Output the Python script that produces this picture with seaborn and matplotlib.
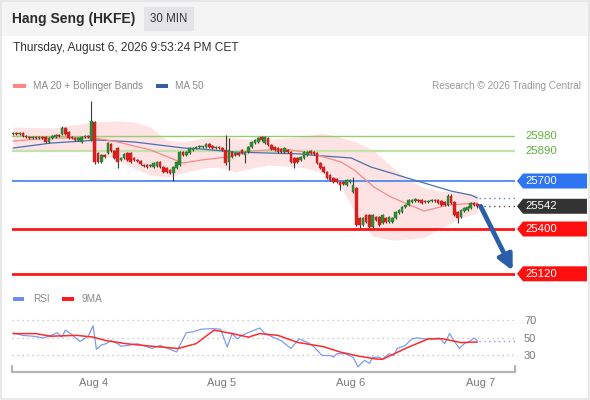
import numpy as np
import pandas as pd
import matplotlib
matplotlib.use("Agg")
import matplotlib.pyplot as plt
import seaborn as sns
from matplotlib.patches import Rectangle, Polygon
from matplotlib.transforms import blended_transform_factory

# ---------------- data ----------------
opens = [25994, 26000, 25994, 26000, 25981, 25975, 25969, 25975, 25969, 25975,
         25975, 25944, 25969, 25975, 25987, 25994, 26031, 26006, 25975, 25969,
         25956, 25944, 25975, 25981, 25956, 26069, 25875, 25819, 25862, 25875,
         25931, 25887, 25906, 25831, 25844, 25875, 25875, 25844, 25831, 25825,
         25800, 25800, 25794, 25787, 25794, 25819, 25787, 25781, 25769, 25750,
         25781, 25800, 25881, 25862, 25875, 25894, 25906, 25912, 25912, 25912,
         25931, 25919, 25906, 25912, 25906, 25894, 25819, 25881, 25862, 25875,
         25894, 25862, 25881, 25912, 25937, 25944, 25975, 25937, 25969, 25925,
         25912, 25906, 25900, 25881, 25894, 25881, 25844, 25844, 25831, 25844,
         25862, 25887, 25881, 25875, 25812, 25787, 25756, 25737, 25719, 25712,
         25694, 25694, 25675, 25694, 25631, 25656, 25469, 25425, 25487, 25487,
         25412, 25475, 25475, 25437, 25469, 25444, 25444, 25469, 25500, 25506,
         25537, 25550, 25569, 25575, 25581, 25581, 25575, 25569, 25575, 25581,
         25581, 25575, 25569, 25550, 25606, 25569, 25506, 25475, 25512, 25519,
         25531, 25562, 25556]
closes = [26000, 25994, 26000, 25981, 25975, 25969, 25975, 25969, 25975, 25969,
          25944, 25969, 25981, 25987, 25981, 26031, 25994, 25969, 25969, 25956,
          25969, 25975, 25981, 25975, 26075, 25819, 25819, 25862, 25850, 25937,
          25887, 25844, 25819, 25844, 25869, 25831, 25819, 25831, 25825, 25806,
          25794, 25787, 25800, 25812, 25819, 25787, 25756, 25756, 25750, 25787,
          25819, 25881, 25862, 25881, 25906, 25906, 25912, 25919, 25912, 25931,
          25912, 25906, 25912, 25906, 25894, 25812, 25894, 25850, 25875, 25862,
          25875, 25881, 25912, 25944, 25956, 25969, 25956, 25975, 25925, 25900,
          25894, 25881, 25881, 25906, 25881, 25819, 25812, 25819, 25850, 25881,
          25881, 25875, 25869, 25812, 25781, 25756, 25719, 25706, 25694, 25694,
          25675, 25681, 25706, 25706, 25675, 25425, 25425, 25469, 25444, 25412,
          25487, 25456, 25425, 25487, 25444, 25475, 25469, 25506, 25519, 25537,
          25550, 25581, 25581, 25587, 25575, 25562, 25569, 25575, 25581, 25575,
          25562, 25550, 25550, 25606, 25562, 25487, 25469, 25519, 25531, 25537,
          25562, 25550, 25542]
highs = [26006, 26006, 26006, 26006, 25987, 25981, 25981, 25981, 25981, 25981,
         25981, 25975, 25987, 25994, 25994, 26044, 26037, 26012, 25981, 25975,
         25975, 25981, 25987, 25987, 26200, 26075, 25881, 25869, 25869, 25944,
         25937, 25894, 25912, 25850, 25875, 25881, 25881, 25850, 25837, 25831,
         25806, 25806, 25806, 25819, 25825, 25825, 25794, 25787, 25775, 25794,
         25825, 25887, 25887, 25887, 25912, 25912, 25919, 25925, 25919, 25937,
         25937, 25925, 25919, 25919, 25912, 25987, 25969, 25887, 25881, 25881,
         25900, 25887, 25919, 25950, 25962, 25975, 25981, 25981, 25975, 25931,
         25919, 25912, 25906, 25912, 25900, 25887, 25850, 25850, 25856, 25887,
         25887, 25894, 25887, 25881, 25819, 25794, 25762, 25744, 25725, 25719,
         25700, 25700, 25712, 25712, 25725, 25662, 25475, 25475, 25494, 25494,
         25494, 25481, 25481, 25494, 25475, 25481, 25475, 25512, 25525, 25544,
         25556, 25587, 25587, 25594, 25587, 25587, 25581, 25581, 25587, 25587,
         25587, 25581, 25575, 25619, 25619, 25575, 25512, 25525, 25537, 25544,
         25569, 25569, 25562]
lows = [25987, 25987, 25987, 25975, 25969, 25962, 25962, 25962, 25962, 25962,
        25937, 25937, 25962, 25969, 25975, 25987, 25987, 25962, 25962, 25950,
        25950, 25937, 25969, 25969, 25950, 25806, 25812, 25812, 25844, 25869,
        25881, 25837, 25781, 25825, 25837, 25825, 25812, 25825, 25819, 25800,
        25787, 25781, 25787, 25781, 25787, 25781, 25750, 25750, 25744, 25700,
        25775, 25794, 25856, 25856, 25869, 25887, 25900, 25906, 25906, 25906,
        25906, 25900, 25900, 25900, 25887, 25800, 25769, 25844, 25856, 25856,
        25869, 25812, 25875, 25906, 25931, 25937, 25950, 25931, 25919, 25894,
        25887, 25875, 25875, 25875, 25875, 25812, 25781, 25812, 25825, 25837,
        25856, 25869, 25862, 25806, 25775, 25750, 25712, 25700, 25687, 25687,
        25644, 25675, 25669, 25687, 25625, 25419, 25406, 25419, 25437, 25406,
        25406, 25450, 25419, 25431, 25437, 25437, 25437, 25462, 25494, 25500,
        25531, 25544, 25562, 25569, 25569, 25556, 25562, 25562, 25569, 25569,
        25556, 25544, 25544, 25544, 25556, 25481, 25437, 25469, 25506, 25512,
        25525, 25544, 25531]

ma20_bar = [0, 12, 25, 32, 42, 52, 57.5, 65.7, 72.8, 82.9, 91, 100.3, 104.3,
            110.4, 115.6, 125.7, 133, 142]
ma20_val = [25950, 25969, 25969, 25944, 25894, 25812, 25831, 25850, 25887,
            25900, 25875, 25819, 25769, 25662, 25600, 25512, 25550, 25562]

ma50_bar = [0, 11.6, 26, 37, 52.3, 57.5, 67.6, 78, 88, 91, 103.4, 109.5,
            115.6, 121.7, 127.8, 134, 140, 142]
ma50_val = [25906, 25937, 25956, 25944, 25906, 25900, 25881, 25875, 25869,
            25862, 25844, 25787, 25750, 25712, 25675, 25637, 25612, 25594]

band_bar = [0, 12, 25, 32, 37, 42, 47, 52, 58, 63, 68, 73, 78, 88, 94, 100,
            105, 110, 116, 121, 126, 131, 137, 142]
band_upper = [26037, 26031, 26069, 26075, 26069, 26037, 25956, 25944, 25969,
              25975, 25969, 25962, 25962, 25975, 26000, 25975, 25944, 25894,
              25787, 25706, 25656, 25637, 25631, 25612]
band_lower = [25894, 25894, 25887, 25831, 25781, 25737, 25725, 25750, 25781,
              25787, 25756, 25781, 25800, 25787, 25756, 25675, 25487, 25356,
              25331, 25337, 25350, 25406, 25469, 25500]

rsi_bar = [0, 3, 6, 8, 9, 11, 13.5, 15, 16, 18, 20.5, 23, 24.5, 25.5, 27, 28.5,
           30, 32, 33, 35.5, 38, 40, 42.5, 45, 47, 50, 53, 55, 57.5, 61, 63.5,
           65.5, 67, 68.5, 70, 72.5, 75.5, 77, 79.5, 82, 85, 87.5, 90, 92, 94.5,
           97, 98, 99, 101.5, 104, 105.5, 107.5, 109, 110, 112, 113, 115, 116.5,
           117.5, 120, 122, 123.5, 126, 128, 130.5, 132, 133.5, 135, 136.5, 138,
           140, 141, 142]
rsi_val = [55.7, 53, 52, 51, 50, 52, 56, 51, 59, 54, 46, 52, 64, 37, 42, 43.5,
           47, 43.5, 40.5, 41.6, 43.5, 41, 38, 41.6, 38.6, 34, 56, 57, 60, 60.7,
           60, 39.7, 55, 49, 53, 57, 61.4, 55, 51, 47, 38, 49, 45, 40, 30,
           30, 28, 32, 32, 28, 17, 24.5, 21, 28, 28, 26, 32, 30,
           38, 41.6, 49, 50, 49, 49, 50, 43.5, 55, 46, 38, 43.5,
           47, 50, 47]
ma9_bar = [0, 7, 11.5, 19.5, 24.5, 28.5, 34.5, 42.5, 50.5, 56, 61.5, 67, 72,
           75.5, 81, 87, 95, 100, 105.5, 111, 113, 120, 127, 131.5, 137, 142]
ma9_val = [55, 55, 52, 53, 51, 47, 43.5, 40.5, 38, 43.5, 59, 55, 51, 55, 53,
           45, 40, 34, 29.4, 26, 25.6, 38, 49, 49, 44.7, 45.4]

day_labels = ["Aug 4", "Aug 5", "Aug 6", "Aug 7"]
day_bar = [24.5, 63.9, 103.4, 143.1]

levels = [25980, 25890, 25700, 25400, 25120]
level_kind = ["res", "res", "pivot", "sup", "sup"]
last_price = 25542
rsi_levels = [30, 50, 70]

# ---------------- style ----------------
sns.set_style("white")
plt.rcParams["font.family"] = ["Liberation Sans", "DejaVu Sans"]

W, H = 590, 400
fig = plt.figure(figsize=(W / 100, H / 100), dpi=100)
fig.patch.set_facecolor("white")

def fx(px):
    return px / W

def fy(py):
    return 1 - py / H

# header band
fig.patches.append(Rectangle((0, fy(36)), 1, 36 / H, transform=fig.transFigure,
                             facecolor="#f4f4f4", edgecolor="none", zorder=0))
fig.patches.append(Rectangle((fx(144), fy(31)), 50 / W, 24 / H, transform=fig.transFigure,
                             facecolor="#e4e4e6", edgecolor="none", zorder=1))
fig.patches.append(Rectangle((0.001, 0.002), 0.997, 0.996, transform=fig.transFigure,
                             facecolor="none", edgecolor="#e4e4e4", lw=1.2, zorder=1))
fig.text(fx(12), fy(19), "Hang Seng (HKFE)", fontsize=10, fontweight="bold",
         color="#2b2b2b", va="center", ha="left")
fig.text(fx(169), fy(19), "30 MIN", fontsize=8.3, color="#333333", va="center", ha="center")
fig.text(fx(13), fy(48), "Thursday, August 6, 2026 9:53:24 PM CET", fontsize=8.6,
         color="#333333", va="center", ha="left")

# legends
LFS = 7.2
fig.patches.append(Rectangle((fx(13), fy(88)), 13 / W, 4 / H, transform=fig.transFigure,
                             facecolor="#ff8585", edgecolor="none"))
fig.text(fx(33), fy(86), "MA 20 + Bollinger Bands", fontsize=LFS, color="#8a8a8a", va="center")
fig.patches.append(Rectangle((fx(156), fy(88)), 12 / W, 4 / H, transform=fig.transFigure,
                             facecolor="#3560a0", edgecolor="none"))
fig.text(fx(175), fy(86), "MA 50", fontsize=LFS, color="#8a8a8a", va="center")
fig.text(fx(581), fy(86), "Research \u00a9 2026 Trading Central", fontsize=LFS,
         color="#9a9a9a", va="center", ha="right")

fig.patches.append(Rectangle((fx(13), fy(301)), 11 / W, 4 / H, transform=fig.transFigure,
                             facecolor="#6b8ff0", edgecolor="none"))
fig.text(fx(33), fy(299), "RSI", fontsize=LFS, color="#8a8a8a", va="center")
fig.patches.append(Rectangle((fx(62), fy(301)), 12 / W, 4 / H, transform=fig.transFigure,
                             facecolor="#ff1a1a", edgecolor="none"))
fig.text(fx(82), fy(299), "9MA", fontsize=LFS, color="#8a8a8a", va="center")

# ---------------- main price axes ----------------
ax = fig.add_axes([fx(12), fy(285), 503 / W, 190 / H])
n = len(closes)
xs = np.arange(n)
spacing = 3.27
x_left = -1 / spacing
x_right = x_left + 503 / spacing
ax.set_xlim(x_left, x_right)
ax.set_ylim(25050, 26237.5)
ax.set_axis_off()

ax.fill_between(band_bar, band_lower, band_upper, color="#fde3e3", lw=0, zorder=1)

res_i = 0
for lv, kind in zip(levels, level_kind):
    if kind == "res":
        col = ["#98cc72", "#c2e2aa"][res_i]
        lw = [1.0, 1.6][res_i]
        res_i += 1
        ax.axhline(lv, color=col, lw=lw, zorder=2)
    elif kind == "pivot":
        ax.axhline(lv, color="#5a8ff0", lw=1.4, zorder=2)
    else:
        ax.axhline(lv, color="#ff1414", lw=2.0, zorder=2)

sns.lineplot(x=ma50_bar, y=ma50_val, ax=ax, color="#4a6fb0", lw=0.9, zorder=3)
sns.lineplot(x=ma20_bar, y=ma20_val, ax=ax, color="#f88a8a", lw=0.9, zorder=3)

o = np.array(opens, dtype=float)
c = np.array(closes, dtype=float)
up = c >= o
body = c - o
min_h = 5.0
body = np.where(np.abs(body) < min_h, np.where(up, min_h, -min_h), body)
ax.vlines(xs, lows, highs, color="#3a3a3a", lw=0.8, zorder=4)
ax.bar(xs, body, bottom=o, width=0.8,
       color=np.where(up, "#2f8a35", "#dd1f1f"),
       edgecolor=np.where(up, "#2a7a30", "#c81a1a"), lw=0.3, zorder=5)

# dotted forward projections
ax.hlines(ma50_val[-1], ma50_bar[-1] + 0.5, x_right, color="#5a7fc0", lw=1.0,
          linestyles=(0, (1, 2.5)), zorder=3)
ax.hlines(last_price, n - 1 + 0.5, x_right, color="#555555", lw=1.0,
          linestyles=(0, (1, 2.5)), zorder=3)

# right labels
trans = blended_transform_factory(ax.transAxes, ax.transData)
half = 7.5 * 6.25
tip, body_l, right = (517 - 12) / 503, (523 - 12) / 503, (587 - 12) / 503
text_x = (525 - 12) / 503

def price_box(y, face):
    poly = Polygon([(tip, y), (body_l, y + half), (right, y + half), (right, y - half),
                    (body_l, y - half)], closed=True, transform=trans,
                   facecolor=face, edgecolor="none", clip_on=False, zorder=6)
    ax.add_patch(poly)
    ax.text(text_x, y, f"{y:.0f}", transform=trans, color="white", fontsize=8.2,
            va="center", ha="left", zorder=7, clip_on=False)

for lv, kind in zip(levels, level_kind):
    if kind == "res":
        ax.text(text_x, lv, f"{lv}", transform=trans, color="#5fb33a", fontsize=8.2,
                va="center", ha="left", clip_on=False)
    elif kind == "pivot":
        price_box(lv, "#2f74f0")
    else:
        price_box(lv, "#ff0f0f")
price_box(last_price, "#333333")

# forecast arrow
ax.annotate("", xy=(n - 1 + 10.8, levels[-1] + 20), xytext=(n - 1 + 1.0, last_price),
            arrowprops=dict(arrowstyle="-|>,head_length=0.9,head_width=0.45",
                            lw=3.4, color="#2c5da8", shrinkA=0, shrinkB=0),
            zorder=8, annotation_clip=False)

# ---------------- RSI axes ----------------
ax2 = fig.add_axes([fx(12), fy(372), 503 / W, 67 / H])
ax2.set_xlim(x_left, x_right)
ax2.set_ylim(11.1, 87.7)
for lv in rsi_levels:
    ax2.axhline(lv, color="#bdbdbd", lw=0.9, linestyle=(0, (1, 3)), zorder=1)
sns.lineplot(x=rsi_bar, y=rsi_val, ax=ax2, color="#7c9cf0", lw=0.9, zorder=3)
sns.lineplot(x=ma9_bar, y=ma9_val, ax=ax2, color="#ff2a2a", lw=1.1, zorder=4)
ax2.hlines(rsi_val[-1], rsi_bar[-1] + 0.5, x_right, color="#7c9cf0", lw=1.0,
           linestyles=(0, (1, 2.5)), zorder=2)

for s in ["top", "left", "right"]:
    ax2.spines[s].set_visible(False)
ax2.spines["bottom"].set_color("#b5b5b5")
ax2.spines["bottom"].set_linewidth(1.6)
ax2.plot([0, 0], [0, 0.09], transform=ax2.transAxes, color="#b5b5b5", lw=1.6, clip_on=False)
ax2.plot([1, 1], [0, 0.09], transform=ax2.transAxes, color="#b5b5b5", lw=1.6, clip_on=False)

ax2.set_xticks(day_bar)
ax2.set_xticklabels(day_labels)
ax2.yaxis.tick_right()
ax2.set_yticks(rsi_levels)
ax2.set_yticklabels([str(v) for v in rsi_levels])
ax2.tick_params(axis="x", length=0, pad=4.5, labelsize=8, labelcolor="#7a7a7a")
ax2.tick_params(axis="y", length=0, pad=6.5, labelsize=8, labelcolor="#7a7a7a")
ax2.set_xlabel("")
ax2.set_ylabel("")
ax2.set_facecolor("none")
ax2.grid(False)

fig.savefig("out.png", dpi=100)
